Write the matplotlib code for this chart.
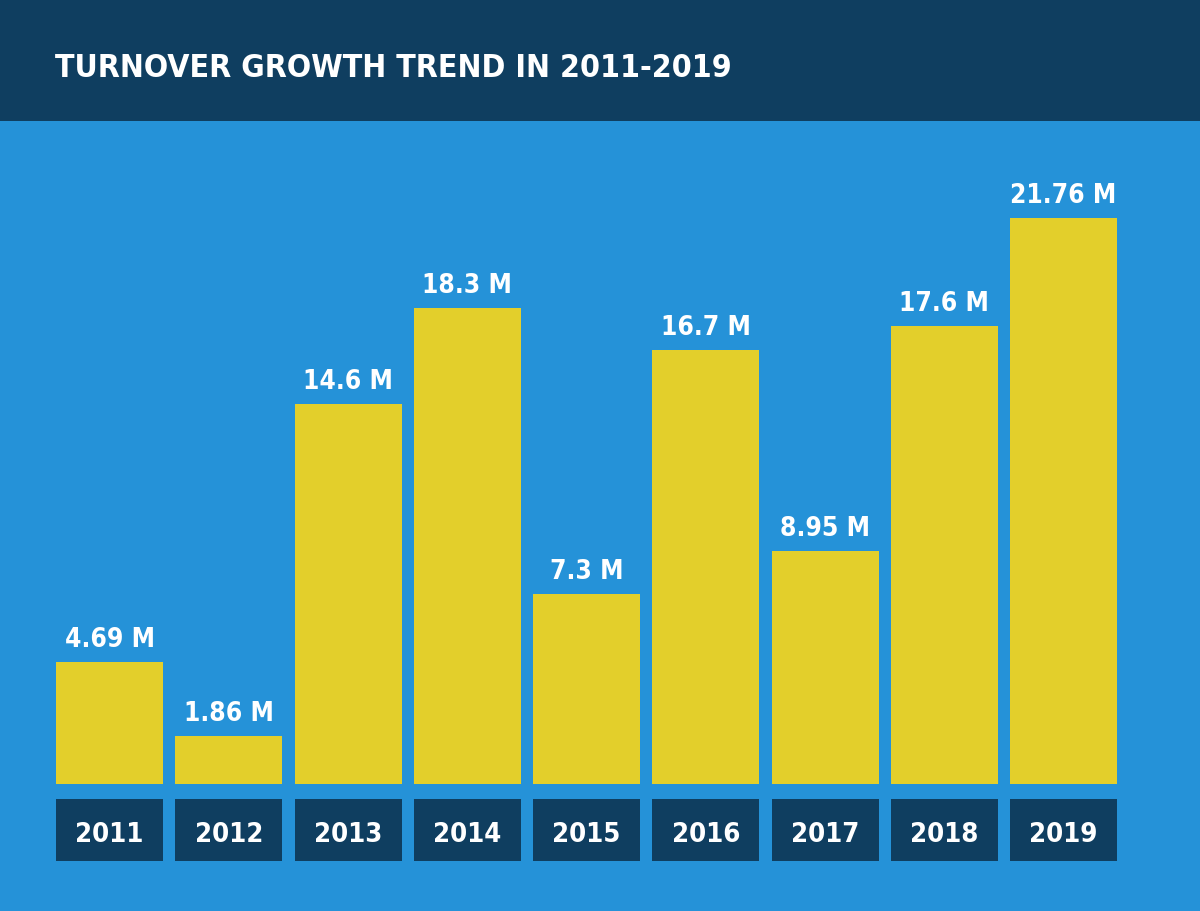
import matplotlib
matplotlib.use("Agg")
import matplotlib.pyplot as plt
from matplotlib import font_manager
from matplotlib.patches import Rectangle

years = ["2011", "2012", "2013", "2014", "2015", "2016", "2017", "2018", "2019"]
turnover = [4.69, 1.86, 14.6, 18.3, 7.3, 16.7, 8.95, 17.6, 21.76]
value_labels = ["4.69 M", "1.86 M", "14.6 M", "18.3 M", "7.3 M", "16.7 M", "8.95 M", "17.6 M", "21.76 M"]
title = "TURNOVER GROWTH TREND IN 2011-2019"

NAVY = "#0f3e60"
BLUE = "#2592d8"
YELLOW = "#e3cf2b"

# pick a narrow bold font if one is around
names = {f.name for f in font_manager.fontManager.ttflist}
if "Liberation Sans Narrow" in names:
    font = dict(family="Liberation Sans Narrow", weight="bold")
    scale = 1.0
else:
    font = dict(family="DejaVu Sans", weight="bold", stretch="condensed")
    scale = 0.82

W, H = 1200, 912
fig = plt.figure(figsize=(W / 100, H / 100), dpi=100)
fig.patch.set_facecolor(BLUE)

ax = fig.add_axes([0, 0, 1, 1])
ax.set_facecolor(BLUE)
ax.axis("off")

px_per_m = 26.0
base_px = 127  # baseline height from bottom of figure
step = 119.25
x0 = 109.5
ax.set_xlim(-x0 / step, (W - x0) / step)
ax.set_ylim(-base_px / px_per_m, (H - base_px) / px_per_m)

x = list(range(len(years)))
width = 107 / step

ax.bar(x, turnover, width=width, color=YELLOW, linewidth=0)

# year boxes under the bars
gap = 15 / px_per_m
box_h = 62 / px_per_m
ax.bar(x, [-box_h] * len(x), bottom=-gap, width=width, color=NAVY, linewidth=0)

for i, (v, lab) in enumerate(zip(turnover, value_labels)):
    ax.annotate(lab, (i, v), xytext=(0, 16), textcoords="offset pixels",
                ha="center", va="baseline", color="white",
                fontsize=23 * scale, **font)
    ax.annotate(years[i], (i, 0), xytext=(0, -57), textcoords="offset pixels",
                ha="center", va="baseline", color="white",
                fontsize=24 * scale, **font)

# header band
fig.patches.append(Rectangle((0, (H - 122) / H), 1, 122 / H, transform=fig.transFigure,
                             facecolor=NAVY, edgecolor="none", zorder=5))
fig.text(55 / W, (H - 77) / H, title, ha="left", va="baseline", color="white",
         fontsize=28 * scale, zorder=6, **font)

fig.savefig("out.png", dpi=100, facecolor=fig.get_facecolor())
